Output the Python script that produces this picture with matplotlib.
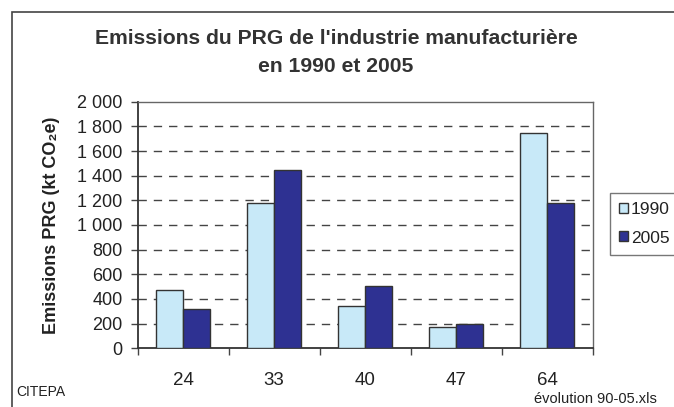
import matplotlib
matplotlib.use("Agg")
import matplotlib.pyplot as plt
import matplotlib.patches as mpatches
import numpy as np

plt.rcParams['font.family'] = ['Liberation Sans', 'DejaVu Sans']

categories = ["24", "33", "40", "47", "64"]
series_names = ["1990", "2005"]
values_1990 = [470, 1180, 340, 175, 1745]
values_2005 = [318, 1450, 505, 200, 1182]
yticks = [0, 200, 400, 600, 800, 1000, 1200, 1400, 1600, 1800, 2000]
ytick_labels = ["0", "200", "400", "600", "800", "1 000", "1 200", "1 400", "1 600", "1 800", "2 000"]

W, H = 674, 407
fig = plt.figure(figsize=(W / 100, H / 100), dpi=100)
fig.patch.set_facecolor("white")

# outer chart frame (cropped on right/bottom)
fig.patches.append(mpatches.Rectangle((12 / W, -0.2), 2, 1 - 12 / H + 0.2,
                                      transform=fig.transFigure, fill=False,
                                      edgecolor="#444444", linewidth=1.2))

ax = fig.add_axes([137.7 / W, 1 - 348.3 / H, (592.7 - 137.7) / W, (348.3 - 101.7) / H])

x = np.arange(len(categories))
bw = 0.295
c1, c2 = "#C8E9F8", "#2E3192"
b1 = ax.bar(x - bw / 2, values_1990, bw, color=c1, edgecolor="#333333", linewidth=1.0,
            label=series_names[0], zorder=3)
b2 = ax.bar(x + bw / 2, values_2005, bw, color=c2, edgecolor="#333333", linewidth=1.0,
            label=series_names[1], zorder=3)

ax.set_xlim(-0.5, len(categories) - 0.5)
ax.set_ylim(0, 2000)
ax.set_yticks(yticks)
ax.set_yticklabels(ytick_labels, fontsize=13, color="#222222")
ax.set_xticks(x)
ax.set_xticklabels(categories, fontsize=13.5, color="#222222")
ax.tick_params(axis="x", length=0, pad=17)
ax.set_xticks(np.arange(len(categories) + 1) - 0.5, minor=True)
ax.tick_params(axis="x", which="minor", length=5, direction="out", color="#444444", width=1)
ax.tick_params(axis="y", length=5, direction="out", color="#444444", width=1, pad=6)

for gy in yticks[1:-1]:
    ax.axhline(gy, color="#444444", linestyle=(0, (6, 5)), linewidth=1.0, zorder=1)

for side in ["left", "bottom"]:
    ax.spines[side].set_color("#333333")
    ax.spines[side].set_linewidth(1.3)
for side in ["top", "right"]:
    ax.spines[side].set_color("#666666")
    ax.spines[side].set_linewidth(1.0)

ax.set_ylabel("Emissions PRG (kt CO₂e)", fontsize=13, fontweight="bold", color="#222222")
ax.yaxis.set_label_coords(-78 / (592.7 - 137.7), 0.5)

fig.text(336 / W, 1 - 38 / H, "Emissions du PRG de l'industrie manufacturière",
         ha="center", va="center", fontsize=15.2, fontweight="bold", color="#333333")
fig.text(336 / W, 1 - 66 / H, "en 1990 et 2005",
         ha="center", va="center", fontsize=15.2, fontweight="bold", color="#333333")

fig.text(16 / W, 1 - 392 / H, "CITEPA", ha="left", va="center", fontsize=10,
         color="#222222", fontstretch="condensed")
fig.text(534 / W, 1 - 399 / H, "évolution 90-05.xls", ha="left", va="center",
         fontsize=10.5, color="#222222")

leg = ax.legend(handles=[b1, b2], loc="upper left",
                bbox_to_anchor=(610 / W, 1 - 193 / H), bbox_transform=fig.transFigure,
                borderaxespad=0, frameon=True, fancybox=False, edgecolor="#555555",
                fontsize=12.5, handlelength=0.5, handleheight=0.5, handletextpad=0.15,
                labelspacing=0.76, borderpad=0.54)
leg.get_frame().set_linewidth(1.0)
for t in leg.get_texts():
    t.set_color("#222222")

fig.savefig("out.png", dpi=100)
